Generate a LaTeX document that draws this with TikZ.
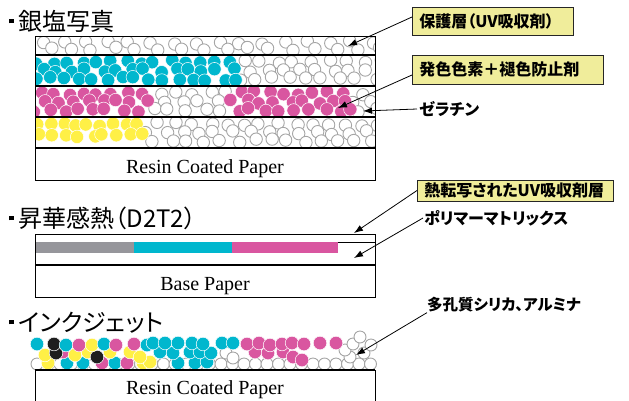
\documentclass[tikz,border=0pt]{standalone}
\usepackage{fontspec}
\usetikzlibrary{arrows.meta}
\setmainfont{Liberation Serif}
\newfontfamily\jpfont{Noto Sans CJK JP}[RawFeature=+palt]

\definecolor{inkC}{RGB}{0,183,206}
\definecolor{inkM}{RGB}{217,86,160}
\definecolor{inkY}{RGB}{255,240,70}
\definecolor{inkK}{RGB}{30,30,30}
\definecolor{bandgray}{RGB}{150,150,155}
\definecolor{notefill}{RGB}{240,237,155}
\definecolor{ringgray}{RGB}{165,165,165}

\tikzset{
  grain/.style={draw=ringgray, fill=white, line width=0.9pt},
  dye/.style={fill=#1, draw=white, line width=0.5pt},
  layerline/.style={line width=1.5pt},
  frame/.style={line width=0.8pt},
  note/.style={draw=black!85, fill=notefill, line width=0.8pt,
    font=\jpfont\bfseries\fontsize{16pt}{16pt}\selectfont,
    inner xsep=7pt, inner ysep=0pt, anchor=west},
  tag/.style={font=\jpfont\bfseries\fontsize{16pt}{16pt}\selectfont,
    inner sep=0pt, anchor=west},
  heading/.style={font=\jpfont\fontsize{24pt}{24pt}\selectfont,
    inner sep=0pt, anchor=base west},
  papertext/.style={font=\fontsize{20pt}{20pt}\selectfont,
    inner sep=0pt, anchor=base},
  pointer/.style={-{Latex[length=9pt,width=6.5pt]}, line width=0.8pt},
}

\def\nonecolor{none}
\def\skipcolor{skip}
% one pass of grains over an emulsion layer: #1 top, #2 bottom,
% #3 row offsets, #4 seed, #5 grain pitch along a row, #6 code that sets
% \dc from the x position \px (none = silver grain, skip = nothing)
\newcommand\grainlayer[6]{%
  \begin{scope}
    \clip (35,#1) rectangle (375,#2);
    \pgfmathsetseed{#4}
    \pgfmathtruncatemacro\ncount{350/#5}
    \foreach \yo [count=\r] in {#3} {
      \foreach \i in {0,...,\ncount} {
        \pgfmathsetmacro\px{34+\i*#5+mod(\r,3)*#5/3+rand*3.5}
        \pgfmathsetmacro\py{#1+\yo+rand*2}
        \def\dc{none}#6
        \ifx\dc\nonecolor
          \draw[grain] (\px,\py) circle (6.2pt);
        \else\ifx\dc\skipcolor\else
          \fill[dye=\dc] (\px,\py) circle (6.7pt);
        \fi\fi
      }
    }
  \end{scope}}

\begin{document}
\begin{tikzpicture}[x=1pt,y=-1pt]
\useasboundingbox (0,0) rectangle (629,400);

% ---------- silver halide print ----------
\node[heading] (t1) at (9,30) {\rule[6.6pt]{4.5pt}{4.5pt}\hspace{5pt}銀塩写真};

% protective layer
\grainlayer{36}{55}{6.5,13}{11}{22}{}
% cyan layer
\grainlayer{55}{86}{7,15.5,24}{23}{17}{\ifdim\px pt<238pt \def\dc{skip}\fi}
\grainlayer{55}{86}{7,15.5,24}{29}{14.5}{\ifdim\px pt<238pt \def\dc{inkC}\else\def\dc{skip}\fi}
% magenta layer
\grainlayer{86}{117}{7,15.5,24}{37}{17}{%
  \ifdim\px pt<150pt \def\dc{skip}\fi
  \ifdim\px pt>227pt \ifdim\px pt<352pt \def\dc{skip}\fi\fi}
\grainlayer{86}{117}{7,15.5,24}{43}{14.5}{%
  \def\dc{skip}%
  \ifdim\px pt<150pt \def\dc{inkM}\fi
  \ifdim\px pt>227pt \ifdim\px pt<352pt \def\dc{inkM}\fi\fi}
% yellow layer
\grainlayer{117}{148}{7,15.5,24}{41}{17}{\ifdim\px pt<145pt \def\dc{skip}\fi}
\grainlayer{117}{148}{8,18}{47}{12.5}{\ifdim\px pt<145pt \def\dc{inkY}\else\def\dc{skip}\fi}

\draw[frame] (35,36) rectangle (375,180);
\foreach \yl in {55,86,117,148} \draw[layerline] (35,\yl) -- (375,\yl);
\node[papertext] (rc1) at (205,173) {Resin Coated Paper};

\coordinate (tipUV) at (348,46);
\coordinate (tipDye) at (338,108);
\coordinate (tipGel) at (363,111);

\node[note, minimum height=28pt] (n1) at (412,21)
  {\makebox[147pt][l]{保護層（UV吸収剤）}};
\node[note, minimum height=29pt] (n2) at (412,69.5)
  {\makebox[177pt][l]{発色色素＋褪色防止剤}};
\node[tag] (gel) at (419,109) {ゼラチン};

\draw[pointer] ([yshift=4pt]n1.west) -- (tipUV);
\draw[pointer] ([yshift=-5.5pt]n2.west) -- (tipDye);
\draw[pointer] ([xshift=-2pt]gel.west) -- (tipGel);

% ---------- dye sublimation print ----------
\node[heading] (t2) at (9,227) {\rule[6.6pt]{4.5pt}{4.5pt}\hspace{5pt}昇華感熱（D2T2）};

\fill[bandgray] (35,242) rectangle (134,253);
\fill[inkC] (134,242) rectangle (232,253);
\fill[inkM] (232,242) rectangle (338,253);
\draw[line width=0.7pt] (338,242) -- (375,242);
\draw[frame] (35,234) rectangle (375,297);
\draw[layerline] (35,265) -- (375,265);
\node[papertext] (bp) at (205,290) {Base Paper};

\coordinate (tipTop) at (354,233);
\coordinate (tipPoly) at (354,258);

\node[note, minimum height=21pt] (n3) at (417,190.5)
  {\makebox[182pt][l]{熱転写されたUV吸収剤層}};
\node[tag] (poly) at (424,218) {ポリマーマトリックス};

\draw[pointer] (n3.west) -- (tipTop);
\draw[pointer] ([xshift=-1pt]poly.west) -- (tipPoly);

% ---------- inkjet print ----------
\node[heading] (t3) at (9,331) {\rule[6.6pt]{4.5pt}{4.5pt}\hspace{5pt}インクジェット};

% porous receiving layer
\foreach \x in {37,48.5,...,372} \draw[grain] (\x,364) circle (6pt);
\foreach \x/\y in {226/353, 233/358, 350/357, 345/350, 364/353, 353/344, 360/337, 371/345}
  \draw[grain] (\x,\y) circle (6pt);

% ink drops, lower ones first
\foreach \x/\y/\c in {
   48/363/inkY, 67/363/inkC, 83/363/inkC, 102/363/inkM, 115/363/inkC,
   127/363/inkM, 143/363/inkY, 150/362/inkY,
   178/363/inkC, 195/363/inkC, 207/362/inkC,
   45/355/inkY, 63/352/inkM, 75/355/inkY, 88/352/inkY, 110/352/inkY,
   130/352/inkY, 140/357/inkY, 56/353/inkK, 97/357/inkK,
   160/352/inkC, 173/353/inkC, 190/352/inkC, 200/352/inkC, 211/353/inkC,
   255/352/inkM, 268/353/inkM, 283/352/inkM, 293/357/inkM, 302/360/inkM,
   37/344/inkC, 54/344/inkK, 66/345/inkC, 79/345/inkM, 92/345/inkY,
   104/344/inkC, 116/345/inkM, 134/344/inkM, 147/345/inkC,
   153/343/inkC, 165/343/inkC, 178/343/inkC, 192/343/inkC, 203/344/inkC,
   222/343/inkC, 233/343/inkC,
   247/344/inkM, 259/343/inkM, 270/345/inkM, 282/344/inkM, 292/343/inkM,
   304/344/inkM, 320/343/inkM, 336/343/inkM}
  \fill[dye=\c] (\x,\y) circle (6.8pt);

\draw[frame] (35,370) rectangle (375,404);
\draw[layerline] (35,370) -- (375,370);
\node[papertext] (rc3) at (205,394) {Resin Coated Paper};

\coordinate (tipSil) at (356,355);
\node[tag, font=\jpfont\bfseries\fontsize{15.5pt}{15.5pt}\selectfont] (sil) at (427,305) {多孔質シリカ、アルミナ};
\draw[pointer] (sil.south west) -- (tipSil);

\end{tikzpicture}
\end{document}
